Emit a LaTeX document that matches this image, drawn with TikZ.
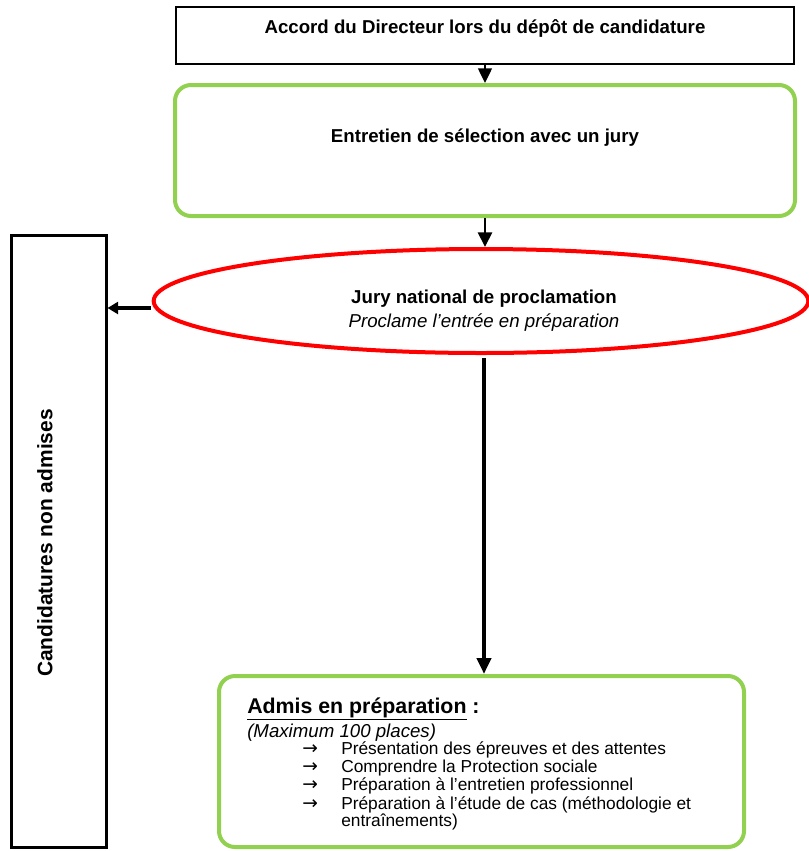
\documentclass[tikz,border=0pt]{standalone}
\usepackage{fontspec}
\setmainfont{Liberation Sans}
\newfontfamily\arrowfont{DejaVu Sans}
\usetikzlibrary{arrows.meta,shapes.geometric,fit}
\definecolor{lgreen}{HTML}{92D050}
\begin{document}
\begin{tikzpicture}[x=0.75pt,y=-0.75pt,
 greenbox/.style={draw=lgreen, line width=3pt, rounded corners=12pt, inner sep=0pt},
 blackbox/.style={draw=black, inner sep=0pt},
 lbl/.style={inner sep=0pt, anchor=base, font=\bfseries\fontsize{14}{16}\selectfont},
 itm/.style={inner sep=0pt, anchor=base west, font=\fontsize{13}{15}\selectfont},
 arr/.style={inner sep=0pt, anchor=base west, font=\arrowfont\fontsize{14}{16}\selectfont},
 tritip/.style={-{Triangle[width=10.5pt,length=11pt]}},
]
\useasboundingbox (0,0) rectangle (809,851);
% boxes
\node[fit={(176,7)(794,64)}, blackbox, line width=1.1pt] (top) {};
\node[lbl] (toptxt) at (485,33) {Accord du Directeur lors du dépôt de candidature};
\node[fit={(175,85)(795,216)}, greenbox] (g1) {};
\node[lbl] (g1txt) at (485,142) {Entretien de sélection avec un jury};
\node[ellipse, draw=red, line width=3pt, minimum width=491pt, minimum height=78pt, inner sep=0pt] (ell) at (481,301) {};
\node[lbl] (elltxt1) at (484,303) {Jury national de proclamation};
\node[inner sep=0pt, anchor=base, font=\itshape\fontsize{14}{16}\selectfont] (elltxt2) at (484,327) {Proclame l’entrée en préparation};
\node[fit={(11,235)(106,847)}, blackbox, line width=2.25pt] (left) {};
\node[inner sep=0pt, rotate=90, font=\bfseries\fontsize{15.7}{18}\selectfont] (lefttxt) at (45,543) {Candidatures non admises};
\node[fit={(219,676)(744,847)}, greenbox] (g2) {};
% contents of g2
\node[inner sep=0pt, anchor=base west, font=\bfseries\fontsize{16}{18}\selectfont] (g2t) at (247,713) {\underline{Admis en préparation} :};
\node[inner sep=0pt, anchor=base west, font=\itshape\fontsize{14}{16}\selectfont] (g2s) at (247,737) {(Maximum 100 places)};
\node[arr] (a1) at (302,754) {→};
\node[itm] (b1) at (341,754) {Présentation des épreuves et des attentes};
\node[arr] (a2) at (302,772) {→};
\node[itm] (b2) at (341,772) {Comprendre la Protection sociale};
\node[arr] (a3) at (302,790) {→};
\node[itm] (b3) at (341,790) {Préparation à l’entretien professionnel};
\node[arr] (a4) at (302,809) {→};
\node[itm] (b4) at (341,809) {Préparation à l’étude de cas (méthodologie et};
\node[itm] (b5) at (341,826) {entraînements)};
% connectors
\draw[tritip, line width=1pt] (top.south -| g1.north) -- (g1.north);
\draw[tritip, line width=2pt] (g1.south) -- (g1.south |- ell.north);
\coordinate (la) at (151,308);
\draw[-{Triangle[width=9pt,length=8pt]}, line width=3pt] (la) -- (la -| left.east);
\coordinate (ls) at (484,358);
\draw[-{Triangle[width=10.5pt,length=12pt]}, line width=3pt] (ls) -- (ls |- g2.north);
\end{tikzpicture}
\end{document}
